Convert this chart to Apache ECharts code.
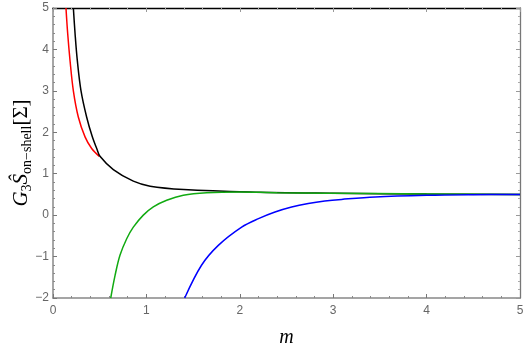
<!DOCTYPE html>
<html>
<head>
<meta charset="utf-8">
<script src="https://cdn.jsdelivr.net/npm/echarts@6/dist/echarts.min.js"></script>
<style>
  html, body { margin: 0; padding: 0; background: #fff; }
  #chart { width: 525px; height: 352px; }
</style>
</head>
<body>
<div id="chart"></div>
<script>
// x ticks and y ticks
var xTicks = [0, 1, 2, 3, 4, 5];
var yTicks = [-2, -1, 0, 1, 2, 3, 4, 5];

// curves, [m, value]
var redLine = [
  [0.139, 5], [0.157, 4.39], [0.182, 3.74], [0.218, 3.0], [0.271, 2.37],
  [0.343, 1.89], [0.414, 1.61], [0.496, 1.42]
];
var blackLine = [
  [0.218, 5], [0.236, 4.39], [0.26, 3.74], [0.30, 3.0], [0.36, 2.37],
  [0.421, 1.89], [0.468, 1.61], [0.503, 1.42], [0.646, 1.10], [0.86, 0.82],
  [1.04, 0.70], [1.4, 0.62], [2.1, 0.56], [3.0, 0.53], [4.0, 0.51], [5.0, 0.50]
];
var greenLine = [
  [0.618, -2], [0.664, -1.46], [0.717, -0.97], [0.789, -0.57], [0.86, -0.29],
  [0.967, 0.0], [1.074, 0.20], [1.217, 0.36], [1.395, 0.48], [1.645, 0.54],
  [2.0, 0.56], [2.4, 0.54], [3.45, 0.52], [5.0, 0.50]
];
var blueLine = [
  [1.41, -2], [1.59, -1.21], [1.77, -0.73], [2.02, -0.29], [2.2, -0.085],
  [2.377, 0.075], [2.555, 0.195], [2.733, 0.28], [2.91, 0.34], [3.09, 0.38],
  [3.45, 0.44], [4.0, 0.48], [4.5, 0.495], [5.0, 0.50]
];

var chart = echarts.init(document.getElementById('chart'), null, { renderer: 'canvas' });

var tickFont = { color: '#666', fontSize: 12, fontFamily: 'Liberation Sans' };

function minusFmt(v) {
  return String(v).replace('-', '\u2212');
}

function lineSeries(data, color) {
  return {
    type: 'line',
    data: data,
    showSymbol: false,
    smooth: 0.35,
    lineStyle: { color: color, width: 1.5 },
    xAxisIndex: 0,
    yAxisIndex: 0,
    clip: true,
    silent: true
  };
}

var option = {
  animation: false,
  grid: { left: 53, right: 5, top: 8, bottom: 54, outerBoundsMode: 'none', containLabel: false },
  xAxis: [
    {
      type: 'value', min: xTicks[0], max: xTicks[xTicks.length - 1], interval: 1,
      name: 'm', nameLocation: 'middle', nameGap: 30, nameMoveOverlap: false,
      nameTextStyle: { fontFamily: 'Liberation Serif', fontStyle: 'italic', fontSize: 20, color: '#000' },
      axisLine: { show: true, onZero: false, lineStyle: { color: '#888', width: 1.5 } },
      axisTick: { show: true, inside: true, length: 4, lineStyle: { color: '#777' } },
      minorTick: { show: true, splitNumber: 5, length: 2, lineStyle: { color: '#888' } },
      axisLabel: Object.assign({ margin: 7, formatter: minusFmt }, tickFont),
      splitLine: { show: false }
    },
    {
      type: 'value', min: xTicks[0], max: xTicks[xTicks.length - 1], interval: 1,
      position: 'top',
      axisLine: { show: true, onZero: false, lineStyle: { color: '#000', width: 1.3 } },
      axisTick: { show: true, inside: true, length: 4, lineStyle: { color: '#999' } },
      minorTick: { show: true, splitNumber: 5, length: 2, lineStyle: { color: '#aaa' } },
      axisLabel: { show: false },
      splitLine: { show: false }
    }
  ],
  yAxis: [
    {
      type: 'value', min: yTicks[0], max: yTicks[yTicks.length - 1], interval: 1,
      name: '{i|G}{s|3}{i|Ŝ}{s|on−shell}{n|[Σ]}',
      nameLocation: 'middle', nameRotate: 90, nameGap: 19, nameMoveOverlap: false,
      nameTextStyle: {
        color: '#000',
        rich: {
          i: { fontFamily: 'Liberation Serif', fontStyle: 'italic', fontSize: 21, lineHeight: 26, verticalAlign: 'middle', color: '#000' },
          s: { fontFamily: 'Liberation Serif', fontSize: 14, lineHeight: 14, verticalAlign: 'bottom', color: '#000' },
          n: { fontFamily: 'Liberation Serif', fontSize: 21, lineHeight: 26, verticalAlign: 'middle', color: '#000' }
        }
      },
      axisLine: { show: true, onZero: false, lineStyle: { color: '#888', width: 1.5 } },
      axisTick: { show: true, inside: true, length: 4, lineStyle: { color: '#777' } },
      minorTick: { show: true, splitNumber: 5, length: 2, lineStyle: { color: '#888' } },
      axisLabel: Object.assign({ margin: 4, formatter: minusFmt }, tickFont),
      splitLine: { show: false }
    },
    {
      type: 'value', min: yTicks[0], max: yTicks[yTicks.length - 1], interval: 1,
      position: 'right',
      axisLine: { show: true, onZero: false, lineStyle: { color: '#777', width: 1.3 } },
      axisTick: { show: true, inside: true, length: 4, lineStyle: { color: '#999' } },
      minorTick: { show: true, splitNumber: 5, length: 2, lineStyle: { color: '#aaa' } },
      axisLabel: { show: false },
      splitLine: { show: false }
    }
  ],
  series: [
    lineSeries(redLine, '#ff0000'),
    lineSeries(blackLine, '#000000'),
    lineSeries(greenLine, '#11aa11'),
    lineSeries(blueLine, '#0000ff')
  ]
};

chart.setOption(option);
</script>
</body>
</html>
